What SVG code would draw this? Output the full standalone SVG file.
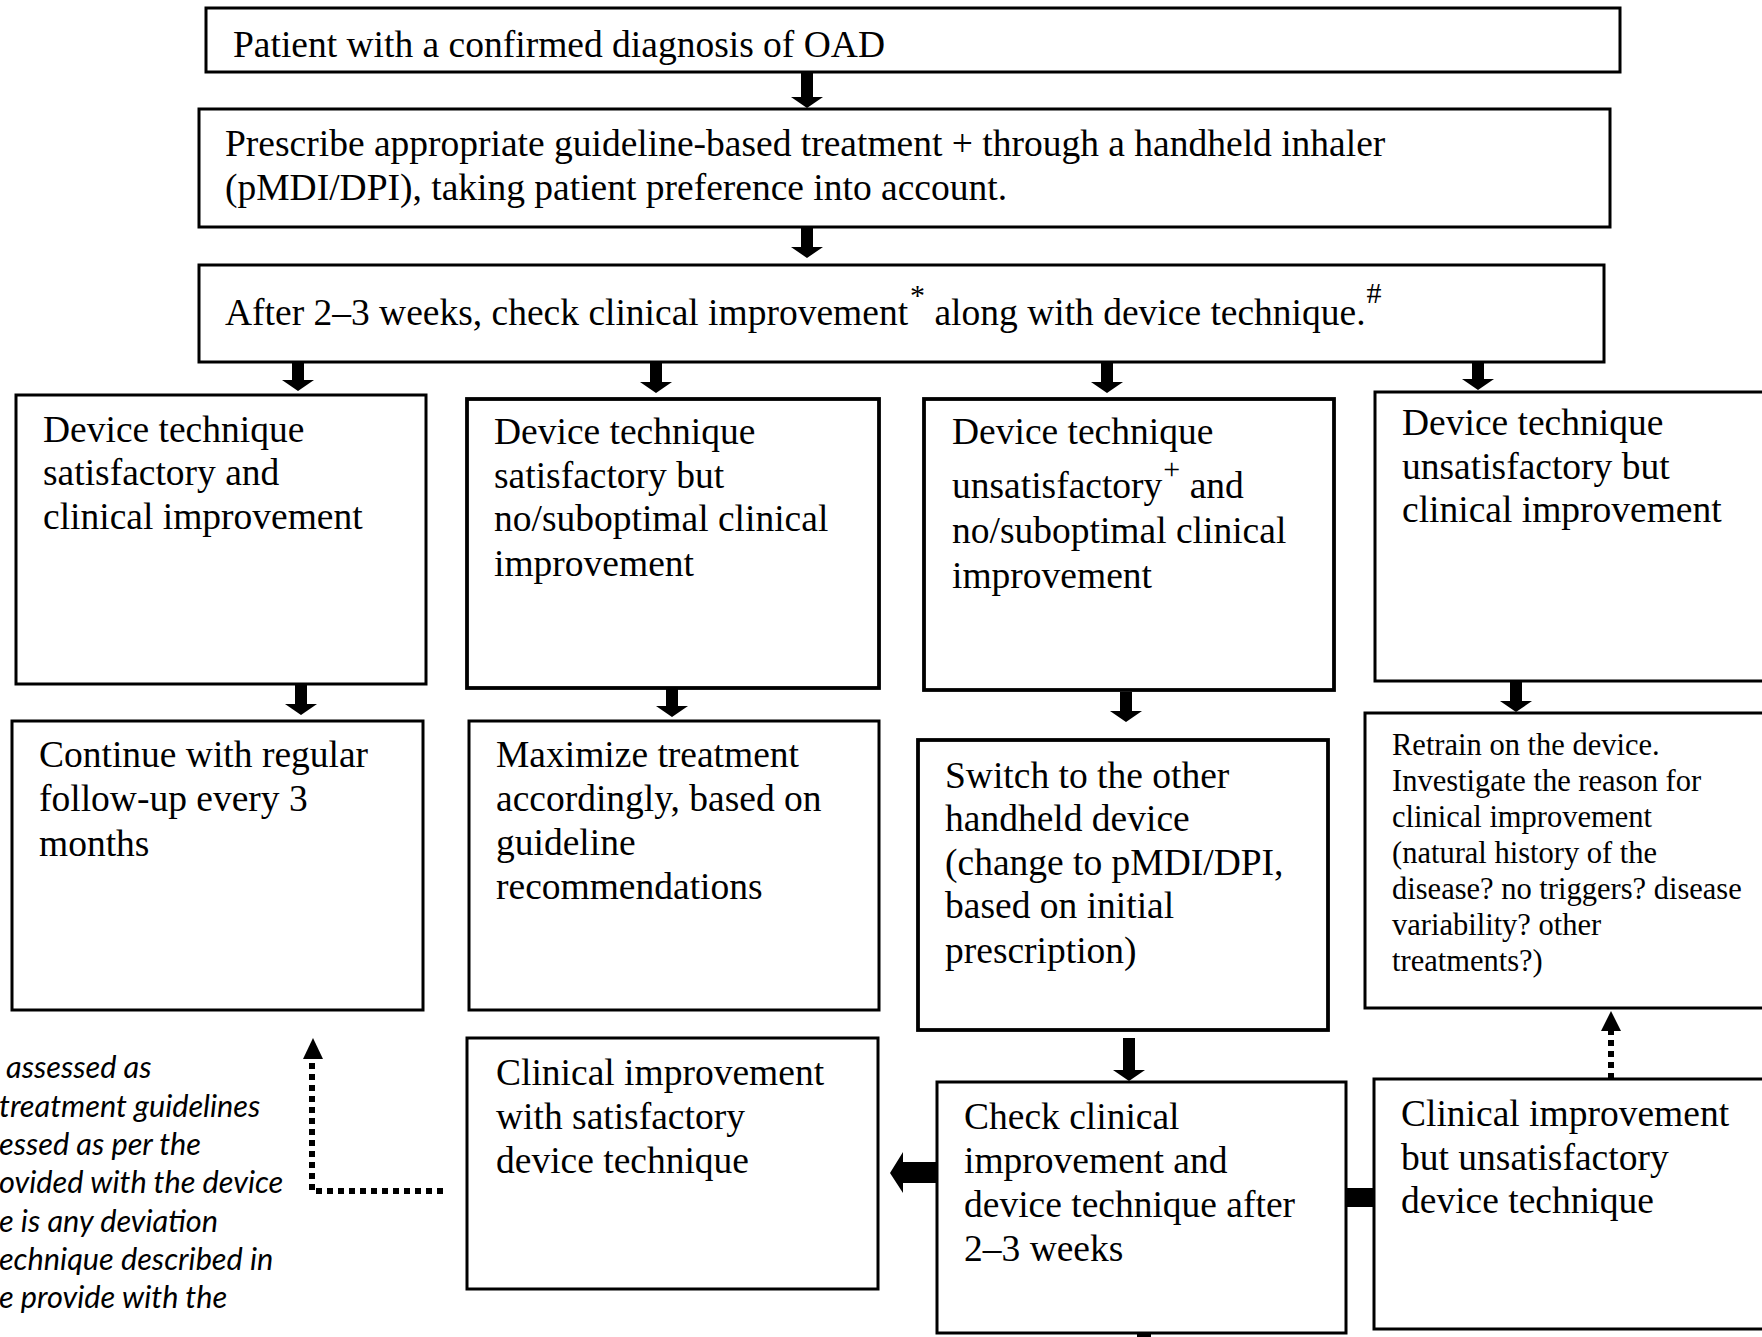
<svg xmlns="http://www.w3.org/2000/svg" width="1762" height="1337" viewBox="0 0 1762 1337">
  <style>
    .box { fill: #ffffff; stroke: #000000; stroke-width: 3; }
    .thick { stroke-width: 3.8; }
    .t { font-family: "Liberation Serif", "Times New Roman", serif; font-size: 37.5px; fill: #000000; }
    .ts { font-family: "Liberation Serif", "Times New Roman", serif; font-size: 30.5px; fill: #000000; }
    .sup { font-size: 30px; }
    .note { font-family: Lato, "Open Sans", sans-serif; font-style: italic; font-size: 30.7px; fill: #000000; }
    .arrow { fill: #000000; stroke: none; }
    .dots { fill: none; stroke: #000000; stroke-width: 6; stroke-dasharray: 6 5; }
  </style>
  <rect width="1762" height="1337" fill="#ffffff"/>

  <!-- connectors -->
  <g id="connectors">
    <!-- solid block arrows pointing down -->
    <path class="arrow" d="M801,72 H813 V97 H823 L807,108 L791,97 H801 Z"/>
    <path class="arrow" d="M801,227 H813 V247 H823 L807,258 L791,247 H801 Z"/>
    <path class="arrow" d="M292,362 H304 V380 H314 L298,391 L282,380 H292 Z"/>
    <path class="arrow" d="M650,362 H662 V382 H672 L656,393 L640,382 H650 Z"/>
    <path class="arrow" d="M1101,362 H1113 V382 H1123 L1107,393 L1091,382 H1101 Z"/>
    <path class="arrow" d="M1472,362 H1484 V379 H1494 L1478,390 L1462,379 H1472 Z"/>
    <path class="arrow" d="M295,684 H307 V704 H317 L301,715 L285,704 H295 Z"/>
    <path class="arrow" d="M666,688 H678 V706 H688 L672,717 L656,706 H666 Z"/>
    <path class="arrow" d="M1120,692 H1132 V711 H1142 L1126,722 L1110,711 H1120 Z"/>
    <path class="arrow" d="M1510,682 H1522 V701 H1532 L1516,712 L1500,701 H1510 Z"/>
    <path class="arrow" d="M1123,1038 H1135 V1070 H1145 L1129,1081 L1113,1070 H1123 Z"/>
    <!-- block arrow pointing left into the satisfactory-technique box -->
    <path class="arrow" d="M936,1162 V1183 H903 V1193 L890,1173 L903,1152 V1162 Z"/>
    <!-- short bar joining the two bottom boxes -->
    <rect class="arrow" x="1345" y="1188" width="30" height="19"/>
    <!-- stub leaving the bottom of the check box -->
    <rect class="arrow" x="1137" y="1331" width="14" height="6"/>
    <!-- dotted return to regular follow-up -->
    <path class="dots" d="M443,1191 H312 V1060"/>
    <path class="arrow" d="M313,1038 L323,1059 H303 Z"/>
    <!-- dotted return to retraining -->
    <path class="dots" d="M1611,1079 V1030"/>
    <path class="arrow" d="M1611,1011 L1621,1031 H1601 Z"/>
  </g>

  <!-- node: diagnosis -->
  <g id="n-diagnosis">
    <rect class="box" x="206" y="8" width="1414" height="64"/>
    <text class="t" x="233" y="57">Patient with a confirmed diagnosis of OAD</text>
  </g>

  <!-- node: prescribe -->
  <g id="n-prescribe">
    <rect class="box" x="199" y="109" width="1411" height="118"/>
    <text class="t" x="225" y="156">Prescribe appropriate guideline-based treatment + through a handheld inhaler</text>
    <text class="t" x="225" y="200">(pMDI/DPI), taking patient preference into account.</text>
  </g>

  <!-- node: check after 2-3 weeks -->
  <g id="n-check">
    <rect class="box" x="199" y="265" width="1405" height="97"/>
    <text class="t" x="225" y="325">After 2–3 weeks, check clinical improvement<tspan class="sup" dx="2" dy="-20">*</tspan><tspan dy="20"> along with device technique.</tspan><tspan class="sup" dx="1" dy="-22">#</tspan></text>
  </g>

  <!-- row 1: four outcomes -->
  <g id="n-sat-improve">
    <rect class="box" x="16" y="395" width="410" height="289"/>
    <text class="t" x="43" y="442">Device technique</text>
    <text class="t" x="43" y="485">satisfactory and</text>
    <text class="t" x="43" y="529">clinical improvement</text>
  </g>
  <g id="n-sat-noimprove">
    <rect class="box thick" x="467" y="399" width="412" height="289"/>
    <text class="t" x="494" y="444">Device technique</text>
    <text class="t" x="494" y="488">satisfactory but</text>
    <text class="t" x="494" y="531">no/suboptimal clinical</text>
    <text class="t" x="494" y="576">improvement</text>
  </g>
  <g id="n-unsat-noimprove">
    <rect class="box thick" x="924" y="399" width="410" height="291"/>
    <text class="t" x="952" y="444">Device technique</text>
    <text class="t" x="952" y="498">unsatisfactory<tspan class="sup" dx="1" dy="-19">+</tspan><tspan dy="19"> and</tspan></text>
    <text class="t" x="952" y="543">no/suboptimal clinical</text>
    <text class="t" x="952" y="588">improvement</text>
  </g>
  <g id="n-unsat-improve">
    <rect class="box" x="1375" y="392" width="400" height="289"/>
    <text class="t" x="1402" y="435">Device technique</text>
    <text class="t" x="1402" y="479">unsatisfactory but</text>
    <text class="t" x="1402" y="522">clinical improvement</text>
  </g>

  <!-- row 2: actions -->
  <g id="n-continue">
    <rect class="box" x="12" y="721" width="411" height="289"/>
    <text class="t" x="39" y="767">Continue with regular</text>
    <text class="t" x="39" y="811">follow-up every 3</text>
    <text class="t" x="39" y="856">months</text>
  </g>
  <g id="n-maximize">
    <rect class="box" x="469" y="721" width="410" height="289"/>
    <text class="t" x="496" y="767">Maximize treatment</text>
    <text class="t" x="496" y="811">accordingly, based on</text>
    <text class="t" x="496" y="855">guideline</text>
    <text class="t" x="496" y="899">recommendations</text>
  </g>
  <g id="n-switch">
    <rect class="box thick" x="918" y="740" width="410" height="290"/>
    <text class="t" x="945" y="788">Switch to the other</text>
    <text class="t" x="945" y="831">handheld device</text>
    <text class="t" x="945" y="875">(change to pMDI/DPI,</text>
    <text class="t" x="945" y="918">based on initial</text>
    <text class="t" x="945" y="963">prescription)</text>
  </g>
  <g id="n-retrain">
    <rect class="box" x="1365" y="713" width="410" height="295"/>
    <text class="ts" x="1392" y="755">Retrain on the device.</text>
    <text class="ts" x="1392" y="791">Investigate the reason for</text>
    <text class="ts" x="1392" y="827">clinical improvement</text>
    <text class="ts" x="1392" y="863">(natural history of the</text>
    <text class="ts" x="1392" y="899">disease? no triggers? disease</text>
    <text class="ts" x="1392" y="935">variability? other</text>
    <text class="ts" x="1392" y="971">treatments?)</text>
  </g>

  <!-- footnote text at the left margin -->
  <g id="n-footnote">
    <text class="note" x="6" y="1078">assessed as</text>
    <text class="note" x="-1" y="1117">treatment guidelines</text>
    <text class="note" x="-1" y="1155">essed as per the</text>
    <text class="note" x="-1" y="1193">ovided with the device</text>
    <text class="note" x="-1" y="1232">e is any deviation</text>
    <text class="note" x="-1" y="1270">echnique described in</text>
    <text class="note" x="-1" y="1308">e provide with the</text>
  </g>

  <!-- row 3: follow-up checks -->
  <g id="n-improve-sat">
    <rect class="box" x="467" y="1038" width="411" height="251"/>
    <text class="t" x="496" y="1085">Clinical improvement</text>
    <text class="t" x="496" y="1129">with satisfactory</text>
    <text class="t" x="496" y="1173">device technique</text>
  </g>
  <g id="n-recheck">
    <rect class="box" x="937" y="1082" width="409" height="251"/>
    <text class="t" x="964" y="1129">Check clinical</text>
    <text class="t" x="964" y="1173">improvement and</text>
    <text class="t" x="964" y="1217">device technique after</text>
    <text class="t" x="964" y="1261">2–3 weeks</text>
  </g>
  <g id="n-improve-unsat">
    <rect class="box" x="1374" y="1079" width="400" height="250"/>
    <text class="t" x="1401" y="1126">Clinical improvement</text>
    <text class="t" x="1401" y="1170">but unsatisfactory</text>
    <text class="t" x="1401" y="1213">device technique</text>
  </g>
</svg>
